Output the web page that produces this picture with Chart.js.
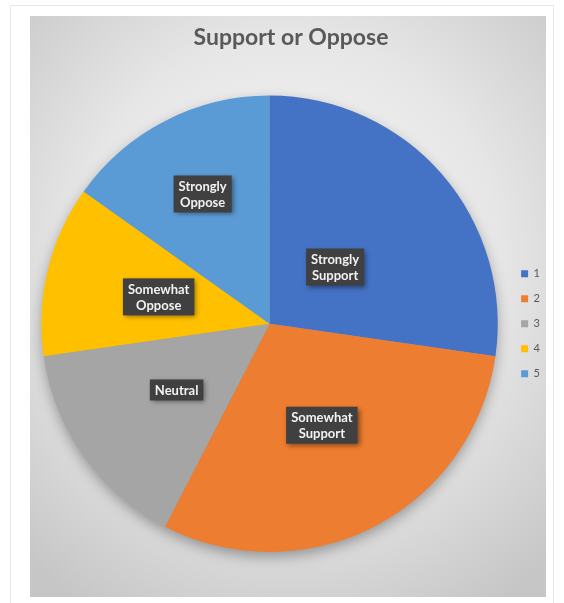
<!DOCTYPE html>
<html>
<head>
<meta charset="utf-8">
<script src="https://cdn.jsdelivr.net/npm/chart.js@4.4.1/dist/chart.umd.min.js"></script>
<style>
    html, body { margin: 0; padding: 0; background: #fff; }
    body { width: 564px; height: 603px; position: relative; overflow: hidden; }
    .frame { position: absolute; left: 10px; top: 5px; width: 542px; height: 640px; border: 1px solid #e8e8e8; }
    .plot-bg {
        position: absolute; left: 30px; top: 16px; width: 516px; height: 581px;
        background: radial-gradient(ellipse 75% 70% at 50% 42%, #fbfbfb 0%, #e6e6e6 55%, #c6c6c6 100%);
    }
    #chart-wrap { position: absolute; left: 0; top: 0; width: 564px; height: 603px; }
</style>
</head>
<body>
<div class="frame"></div>
<div class="plot-bg"></div>
<div id="chart-wrap"><canvas id="pie"></canvas></div>
<script>
// chart data
const categories = ['1', '2', '3', '4', '5'];
const sliceNames = ['Strongly Support', 'Somewhat Support', 'Neutral', 'Somewhat Oppose', 'Strongly Oppose'];
const responses = [27, 30, 15, 12, 15];
const sliceColors = ['#4472C4', '#ED7D31', '#A5A5A5', '#FFC000', '#5B9BD5'];

// draw a soft shadow behind the whole pie
const pieShadow = {
    id: 'pieShadow',
    beforeDatasetsDraw(chart) {
        const arc = chart.getDatasetMeta(0).data[0];
        if (!arc) return;
        const { x, y, outerRadius } = arc.getProps(['x', 'y', 'outerRadius'], true);
        const ctx = chart.ctx;
        ctx.save();
        ctx.shadowColor = 'rgba(0,0,0,0.35)';
        ctx.shadowBlur = 14;
        ctx.shadowOffsetY = 5;
        ctx.fillStyle = '#999';
        ctx.beginPath();
        ctx.arc(x, y, outerRadius - 1, 0, Math.PI * 2);
        ctx.fill();
        ctx.restore();
    }
};

// dark boxed data labels, like the office style
const boxLabels = {
    id: 'boxLabels',
    afterDatasetsDraw(chart, args, opts) {
        const ctx = chart.ctx;
        const meta = chart.getDatasetMeta(0);
        ctx.save();
        ctx.font = 'bold 13px Lato, "Open Sans", sans-serif';
        ctx.textAlign = 'center';
        ctx.textBaseline = 'middle';
        meta.data.forEach((arc, i) => {
            const p = arc.getProps(['x', 'y', 'startAngle', 'endAngle', 'outerRadius'], true);
            const mid = (p.startAngle + p.endAngle) / 2;
            const r = p.outerRadius * opts.offsets[i];
            const cx = p.x + Math.cos(mid) * r;
            const cy = p.y + Math.sin(mid) * r;
            const lines = sliceNames[i].split(' ');
            if (sliceNames[i] === 'Neutral') lines.length = 1;
            const lh = 16;
            const w = Math.max(...lines.map(l => ctx.measureText(l).width)) + 10;
            const h = lines.length * lh + 5;
            ctx.save();
            ctx.shadowColor = 'rgba(0,0,0,0.45)';
            ctx.shadowBlur = 5;
            ctx.shadowOffsetX = 2;
            ctx.shadowOffsetY = 2;
            ctx.fillStyle = '#404040';
            ctx.fillRect(cx - w / 2, cy - h / 2, w, h);
            ctx.restore();
            ctx.fillStyle = '#f2f2f2';
            lines.forEach((l, k) => {
                ctx.fillText(l, cx, cy - (lines.length - 1) * lh / 2 + k * lh + 1);
            });
        });
        ctx.restore();
    }
};

new Chart(document.getElementById('pie').getContext('2d'), {
    type: 'pie',
    data: {
        labels: categories,
        datasets: [{
            data: responses,
            backgroundColor: sliceColors,
            borderWidth: 0
        }]
    },
    options: {
        responsive: true,
        maintainAspectRatio: false,
        animation: false,
        layout: { padding: { left: 32, right: 14, top: 0, bottom: 51 } },
        plugins: {
            title: {
                display: true,
                text: 'Support or Oppose',
                color: '#595959',
                font: { family: 'Lato, "Open Sans", sans-serif', size: 23, weight: 'bold' },
                padding: { top: 24, bottom: 44 }
            },
            legend: {
                position: 'right',
                fullSize: false,
                labels: {
                    boxWidth: 7,
                    boxHeight: 7,
                    padding: 14,
                    color: '#595959',
                    font: { family: 'Lato, "Open Sans", sans-serif', size: 11 }
                }
            },
            tooltip: { enabled: false },
            boxLabels: { offsets: [0.38, 0.5, 0.5, 0.5, 0.64] }
        }
    },
    plugins: [pieShadow, boxLabels]
});
</script>
</body>
</html>
